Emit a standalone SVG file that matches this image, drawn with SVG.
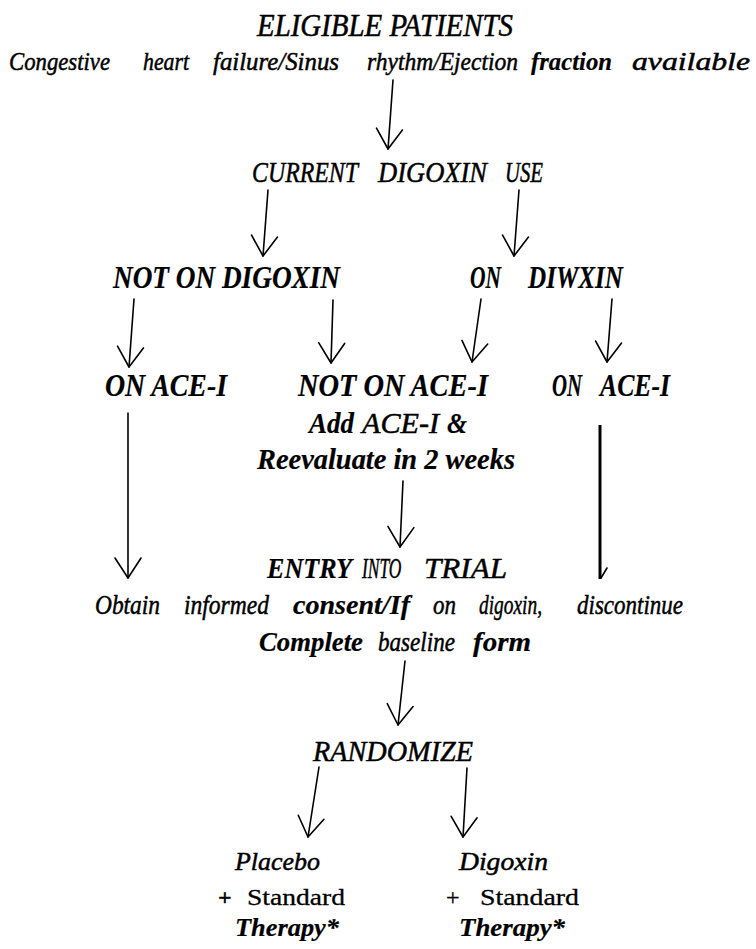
<svg xmlns="http://www.w3.org/2000/svg" width="756" height="949" viewBox="0 0 756 949" font-family="'Liberation Serif','Times New Roman',serif">
<style>
text{font-family:"Liberation Serif","Times New Roman",serif;font-style:italic;fill:#000;stroke:#000;stroke-width:0.5}
.b{font-weight:bold;stroke-width:0.2}
.r{font-style:normal;stroke-width:0.3}
.ln{fill:none;stroke:#000;stroke-width:1.6;stroke-linecap:round}
.thick{fill:none;stroke:#000;stroke-width:3}
</style>
<defs>
<marker id="v" viewBox="-24 -16 26 32" refX="0" refY="0" markerWidth="26" markerHeight="32" markerUnits="userSpaceOnUse" orient="auto">
<path d="M-20,-13 L0,0 L-20,13" fill="none" stroke="#000" stroke-width="1.6" stroke-linecap="round" stroke-linejoin="round"/>
</marker>
</defs>
<rect width="756" height="949" fill="#fff"/>

<g id="eligible">
<text x="257" y="36" font-size="32" stroke-width="0.8" textLength="256" lengthAdjust="spacingAndGlyphs">ELIGIBLE PATIENTS</text>
<g font-size="26">
<text x="9" y="70" textLength="101" lengthAdjust="spacingAndGlyphs">Congestive</text>
<text x="143" y="70" textLength="46" lengthAdjust="spacingAndGlyphs">heart</text>
<text x="213" y="70" textLength="126" lengthAdjust="spacingAndGlyphs">failure/Sinus</text>
<text x="367" y="70" textLength="151" lengthAdjust="spacingAndGlyphs">rhythm/Ejection</text>
<text class="b" x="531" y="70" textLength="81" lengthAdjust="spacingAndGlyphs">fraction</text>
<text x="632" y="70" textLength="118" lengthAdjust="spacingAndGlyphs">available</text>
</g>
</g>

<g id="current">
<text font-size="30" x="252" y="182" textLength="106" lengthAdjust="spacingAndGlyphs">CURRENT</text>
<text font-size="30" x="378" y="182" textLength="109" lengthAdjust="spacingAndGlyphs">DIGOXIN</text>
<text font-size="30" x="505" y="182" textLength="38" lengthAdjust="spacingAndGlyphs">USE</text>
</g>

<g id="not-on-digoxin">
<text class="b" font-size="31" x="113" y="288" textLength="227" lengthAdjust="spacingAndGlyphs">NOT ON DIGOXIN</text>
</g>
<g id="on-digoxin">
<text class="b" font-size="31" x="470" y="288" textLength="31" lengthAdjust="spacingAndGlyphs">ON</text>
<text class="b" font-size="31" x="528" y="288" textLength="95" lengthAdjust="spacingAndGlyphs">DIWXIN</text>
</g>

<g id="on-ace-left">
<text class="b" font-size="31" x="105" y="396" textLength="122" lengthAdjust="spacingAndGlyphs">ON ACE-I</text>
</g>
<g id="not-on-ace">
<text class="b" font-size="31" x="298" y="396" textLength="190" lengthAdjust="spacingAndGlyphs">NOT ON ACE-I</text>
<text class="b" font-size="30" x="309" y="433" textLength="45" lengthAdjust="spacingAndGlyphs">Add</text>
<text font-size="30" x="362" y="433" textLength="77" lengthAdjust="spacingAndGlyphs">ACE-I</text>
<text class="b" font-size="30" x="447" y="433" textLength="20" lengthAdjust="spacingAndGlyphs">&amp;</text>
<text class="b" font-size="29" x="257" y="469" textLength="258" lengthAdjust="spacingAndGlyphs">Reevaluate in 2 weeks</text>
</g>
<g id="on-ace-right">
<text class="b" font-size="31" x="552" y="396" textLength="30" lengthAdjust="spacingAndGlyphs">ON</text>
<text class="b" font-size="31" x="600" y="396" textLength="70" lengthAdjust="spacingAndGlyphs">ACE-I</text>
</g>

<g id="entry">
<text class="b" font-size="30" x="267" y="578" textLength="85" lengthAdjust="spacingAndGlyphs">ENTRY</text>
<text font-size="30" transform="translate(362,578) scale(0.58,1)">INTO</text>
<text font-size="30" x="424" y="578" textLength="83" lengthAdjust="spacingAndGlyphs">TRIAL</text>
<g font-size="28">
<text x="95" y="614" textLength="65" lengthAdjust="spacingAndGlyphs">Obtain</text>
<text x="184" y="614" textLength="85" lengthAdjust="spacingAndGlyphs">informed</text>
<text class="b" x="293" y="614" textLength="117" lengthAdjust="spacingAndGlyphs">consent/If</text>
<text x="433" y="614" textLength="23" lengthAdjust="spacingAndGlyphs">on</text>
<text x="479" y="614" textLength="63" lengthAdjust="spacingAndGlyphs">digoxin,</text>
<text x="577" y="614" textLength="106" lengthAdjust="spacingAndGlyphs">discontinue</text>
<text class="b" x="259" y="651" textLength="104" lengthAdjust="spacingAndGlyphs">Complete</text>
<text x="378" y="651" textLength="77" lengthAdjust="spacingAndGlyphs">baseline</text>
<text class="b" x="473" y="651" textLength="58" lengthAdjust="spacingAndGlyphs">form</text>
</g>
</g>

<g id="randomize">
<text font-size="30" x="313" y="761" textLength="160" lengthAdjust="spacingAndGlyphs">RANDOMIZE</text>
</g>

<g id="placebo">
<text font-size="26" x="235" y="870" textLength="85" lengthAdjust="spacingAndGlyphs">Placebo</text>
<text class="r b" font-size="24" x="218" y="905">+</text>
<text class="r" font-size="24" x="247" y="905" textLength="98" lengthAdjust="spacingAndGlyphs">Standard</text>
<text class="b" font-size="26" x="235" y="936" textLength="104" lengthAdjust="spacingAndGlyphs">Therapy*</text>
</g>
<g id="digoxin">
<text font-size="26" x="459" y="870" textLength="89" lengthAdjust="spacingAndGlyphs">Digoxin</text>
<text class="r" font-size="24" x="446" y="905">+</text>
<text class="r" font-size="24" x="480" y="905" textLength="99" lengthAdjust="spacingAndGlyphs">Standard</text>
<text class="b" font-size="26" x="459" y="936" textLength="106" lengthAdjust="spacingAndGlyphs">Therapy*</text>
</g>

<g id="connectors">
<path class="ln" marker-end="url(#v)" d="M393,80 L388,149"/>
<path class="ln" marker-end="url(#v)" d="M268,190 L263,256"/>
<path class="ln" marker-end="url(#v)" d="M519,190 L514,256"/>
<path class="ln" marker-end="url(#v)" d="M134,299 L129,367"/>
<path class="ln" marker-end="url(#v)" d="M333,300 L331,363"/>
<path class="ln" marker-end="url(#v)" d="M481,299 L472,362"/>
<path class="ln" marker-end="url(#v)" d="M612,299 L607,362"/>
<path class="ln" marker-end="url(#v)" d="M128,413 L128,578"/>
<path class="thick" d="M600,425 L600,579"/>
<path class="ln" d="M601,578 L607,568"/>
<path class="ln" marker-end="url(#v)" d="M403,481 L400,547"/>
<path class="ln" marker-end="url(#v)" d="M405,661 L398,725"/>
<path class="ln" marker-end="url(#v)" d="M319,767 L308,837"/>
<path class="ln" marker-end="url(#v)" d="M467,768 L463,837"/>
</g>
</svg>
